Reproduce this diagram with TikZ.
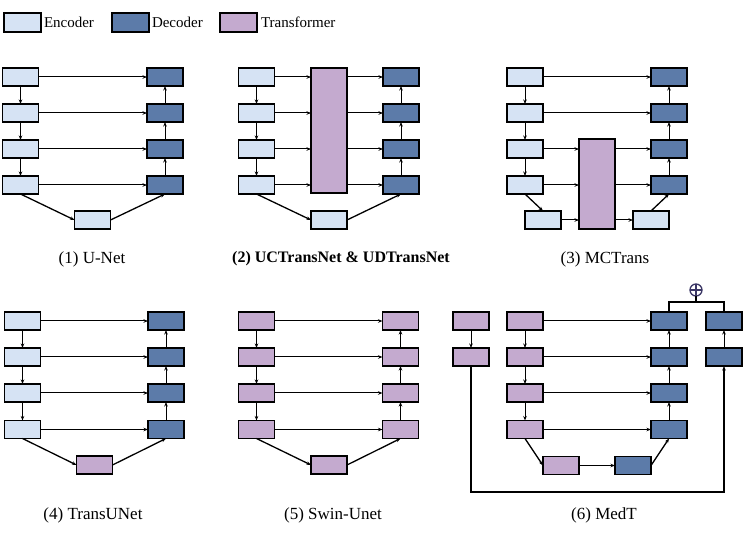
\documentclass[tikz,border=0pt]{standalone}
\usepackage{fontspec}
\setmainfont{Liberation Serif}
\usetikzlibrary{arrows.meta}

\definecolor{encfill}{HTML}{D6E3F4}
\definecolor{decfill}{HTML}{5C7BA9}
\definecolor{trfill}{HTML}{C4AACF}
\definecolor{plusline}{HTML}{3B3766}

\begin{document}
\begin{tikzpicture}
[
	x	= 1pt,	% one unit is one pixel of the sketch
	y	= -1pt,	% rows are counted downwards
	%
	%
	% ----------- options for the blocks --------------
	every node/.style =
	{
		inner sep	= 0pt,
		outer sep	= 0pt
	},
	%
	block/.style =
	{
		draw		= black,
		line width	= 1.4pt,
		minimum width	= 36pt,
		minimum height	= 18pt
	},
	%
	enc/.style	= {block, fill = encfill},
	dec/.style	= {block, fill = decfill},
	trans/.style	= {block, fill = trfill},
	%
	% ----------- options for the connectors --------------
	link/.style =
	{
		draw,
		line width	= 1pt,
		-{Stealth[length=4.5pt, width=3.5pt]}
	},
	%
	slant/.style =
	{
		link,
		line width	= 1.3pt
	},
	%
	wire/.style =
	{
		draw,
		line width	= 1.3pt
	},
	%
	% ----------- options for the texts --------------
	caption/.style	= {font = \fontsize{17}{20}\selectfont},
	keytext/.style	= {font = \fontsize{15}{18}\selectfont, anchor = west}
]

\useasboundingbox (0,0) rectangle (748,537);

% legend
\node [enc, minimum width = 37pt, minimum height = 19pt] (keyE) at (22.5,22.5) {};
\node [keytext] (keyEtext) at (44,22.5) {Encoder};
\node [dec, minimum width = 37pt, minimum height = 19pt] (keyD) at (130.5,22.5) {};
\node [keytext] (keyDtext) at (152,22.5) {Decoder};
\node [trans, minimum width = 37pt, minimum height = 19pt] (keyT) at (238.5,22.5) {};
\node [keytext] (keyTtext) at (261,22.5) {Transformer};



% (1) U-Net
\node [enc] (a1) at (20.5,77) {};
\node [enc] (a2) at (20.5,113) {};
\node [enc] (a3) at (20.5,149) {};
\node [enc] (a4) at (20.5,185) {};
\node [dec] (b1) at (165,77) {};
\node [dec] (b2) at (165,113) {};
\node [dec] (b3) at (165,149) {};
\node [dec] (b4) at (165,185) {};
\node [enc] (ab) at (92.5,220) {};

\draw [link] (a1) -- (a2);
\draw [link] (a2) -- (a3);
\draw [link] (a3) -- (a4);
\draw [link] (b4) -- (b3);
\draw [link] (b3) -- (b2);
\draw [link] (b2) -- (b1);
\draw [link] (a1) -- (b1);
\draw [link] (a2) -- (b2);
\draw [link] (a3) -- (b3);
\draw [link] (a4) -- (b4);
\draw [slant] (a4.south) -- (ab.west);
\draw [slant] (ab.east) -- (b4.south);

\node [caption] (capA) at (92,259) {(1) U-Net};



% (2) UCTransNet & UDTransNet
\node [enc] (c1) at (256.5,77) {};
\node [enc] (c2) at (256.5,113) {};
\node [enc] (c3) at (256.5,149) {};
\node [enc] (c4) at (256.5,185) {};
\node [dec] (d1) at (401,77) {};
\node [dec] (d2) at (401,113) {};
\node [dec] (d3) at (401,149) {};
\node [dec] (d4) at (401,185) {};
\node [trans, minimum height = 125pt] (cT) at (329,130.5) {};
\node [enc] (cb) at (329,220) {};

\draw [link] (c1) -- (c2);
\draw [link] (c2) -- (c3);
\draw [link] (c3) -- (c4);
\draw [link] (d4) -- (d3);
\draw [link] (d3) -- (d2);
\draw [link] (d2) -- (d1);
\draw [link] (c1) -- (c1 -| cT.west);
\draw [link] (c2) -- (c2 -| cT.west);
\draw [link] (c3) -- (c3 -| cT.west);
\draw [link] (c4) -- (c4 -| cT.west);
\draw [link] (d1 -| cT.east) -- (d1);
\draw [link] (d2 -| cT.east) -- (d2);
\draw [link] (d3 -| cT.east) -- (d3);
\draw [link] (d4 -| cT.east) -- (d4);
\draw [slant] (c4.south) -- (cb.west);
\draw [slant] (cb.east) -- (d4.south);

\node [caption, font = \fontsize{16}{19}\selectfont\bfseries] (capB) at (341,259) {(2) UCTransNet \& UDTransNet};



% (3) MCTrans
\node [enc] (e1) at (525,77) {};
\node [enc] (e2) at (525,113) {};
\node [enc] (e3) at (525,149) {};
\node [enc] (e4) at (525,185) {};
\node [dec] (f1) at (669,77) {};
\node [dec] (f2) at (669,113) {};
\node [dec] (f3) at (669,149) {};
\node [dec] (f4) at (669,185) {};
\node [trans, minimum height = 90pt] (eT) at (597,184) {};
\node [enc] (ebl) at (543,220) {};
\node [enc] (ebr) at (651,220) {};

\draw [link] (e1) -- (e2);
\draw [link] (e2) -- (e3);
\draw [link] (e3) -- (e4);
\draw [link] (f4) -- (f3);
\draw [link] (f3) -- (f2);
\draw [link] (f2) -- (f1);
\draw [link] (e1) -- (f1);
\draw [link] (e2) -- (f2);
\draw [link] (e3) -- (e3 -| eT.west);
\draw [link] (e4) -- (e4 -| eT.west);
\draw [link] (ebl) -- (ebl -| eT.west);
\draw [link] (f3 -| eT.east) -- (f3);
\draw [link] (f4 -| eT.east) -- (f4);
\draw [link] (ebr -| eT.east) -- (ebr);
\draw [slant] (e4.south) -- (ebl.north);
\draw [slant] (ebr.north) -- (f4.south);

\node [caption] (capC) at (605,259) {(3) MCTrans};



% (4) TransUNet
\node [enc] (g1) at (22.5,321) {};
\node [enc] (g2) at (22.5,357) {};
\node [enc] (g3) at (22.5,393) {};
\node [enc] (g4) at (22.5,429.5) {};
\node [dec] (h1) at (166,321) {};
\node [dec] (h2) at (166,357) {};
\node [dec] (h3) at (166,393) {};
\node [dec] (h4) at (166,429.5) {};
\node [trans] (gb) at (94.5,465) {};

\draw [link] (g1) -- (g2);
\draw [link] (g2) -- (g3);
\draw [link] (g3) -- (g4);
\draw [link] (h4) -- (h3);
\draw [link] (h3) -- (h2);
\draw [link] (h2) -- (h1);
\draw [link] (g1) -- (h1);
\draw [link] (g2) -- (h2);
\draw [link] (g3) -- (h3);
\draw [link] (g4) -- (h4);
\draw [slant] (g4.south) -- (gb.west);
\draw [slant] (gb.east) -- (h4.south);

\node [caption] (capD) at (93,515) {(4) TransUNet};



% (5) Swin-Unet
\node [trans] (k1) at (256.5,321) {};
\node [trans] (k2) at (256.5,357) {};
\node [trans] (k3) at (256.5,393) {};
\node [trans] (k4) at (256.5,429.5) {};
\node [trans] (l1) at (400.5,321) {};
\node [trans] (l2) at (400.5,357) {};
\node [trans] (l3) at (400.5,393) {};
\node [trans] (l4) at (400.5,429.5) {};
\node [trans] (kb) at (329,465) {};

\draw [link] (k1) -- (k2);
\draw [link] (k2) -- (k3);
\draw [link] (k3) -- (k4);
\draw [link] (l4) -- (l3);
\draw [link] (l3) -- (l2);
\draw [link] (l2) -- (l1);
\draw [link] (k1) -- (l1);
\draw [link] (k2) -- (l2);
\draw [link] (k3) -- (l3);
\draw [link] (k4) -- (l4);
\draw [slant] (k4.south) -- (kb.west);
\draw [slant] (kb.east) -- (l4.south);

\node [caption] (capE) at (333,515) {(5) Swin-Unet};



% (6) MedT
\node [trans] (m1) at (471,321) {};
\node [trans] (m2) at (471,357) {};
\node [trans] (n1) at (525,321) {};
\node [trans] (n2) at (525,357) {};
\node [trans] (n3) at (525,393) {};
\node [trans] (n4) at (525,429.5) {};
\node [dec] (o1) at (669,321) {};
\node [dec] (o2) at (669,357) {};
\node [dec] (o3) at (669,393) {};
\node [dec] (o4) at (669,429.5) {};
\node [dec] (r1) at (724,321) {};
\node [dec] (r2) at (724,357) {};
\node [trans] (nb) at (561,465.5) {};
\node [dec] (ob) at (633,465.5) {};

\node [circle, draw = plusline, line width = 1.3pt, minimum size = 12pt] (plus) at (696,290) {};
\draw [plusline, line width = 1.3pt] (plus.north) -- (plus.south) (plus.west) -- (plus.east);
\coordinate (join) at (696,302);
\coordinate (under) at (600,492);

\draw [link] (m1) -- (m2);
\draw [link] (n1) -- (n2);
\draw [link] (n2) -- (n3);
\draw [link] (n3) -- (n4);
\draw [link] (o4) -- (o3);
\draw [link] (o3) -- (o2);
\draw [link] (o2) -- (o1);
\draw [link] (r2) -- (r1);
\draw [link] (n1) -- (o1);
\draw [link] (n2) -- (o2);
\draw [link] (n3) -- (o3);
\draw [link] (n4) -- (o4);
\draw [link] (nb) -- (ob);
\draw [slant] (n4.south) -- (nb.west);
\draw [slant] (ob.east) -- (o4.south);
\draw [wire] (o1.north) |- (join) -| (r1.north);
\draw [wire] (plus) -- (join);
\draw [slant] (m2.south) |- (under) -| (r2.south);

\node [caption] (capF) at (604,515) {(6) MedT};

\end{tikzpicture}
\end{document}
